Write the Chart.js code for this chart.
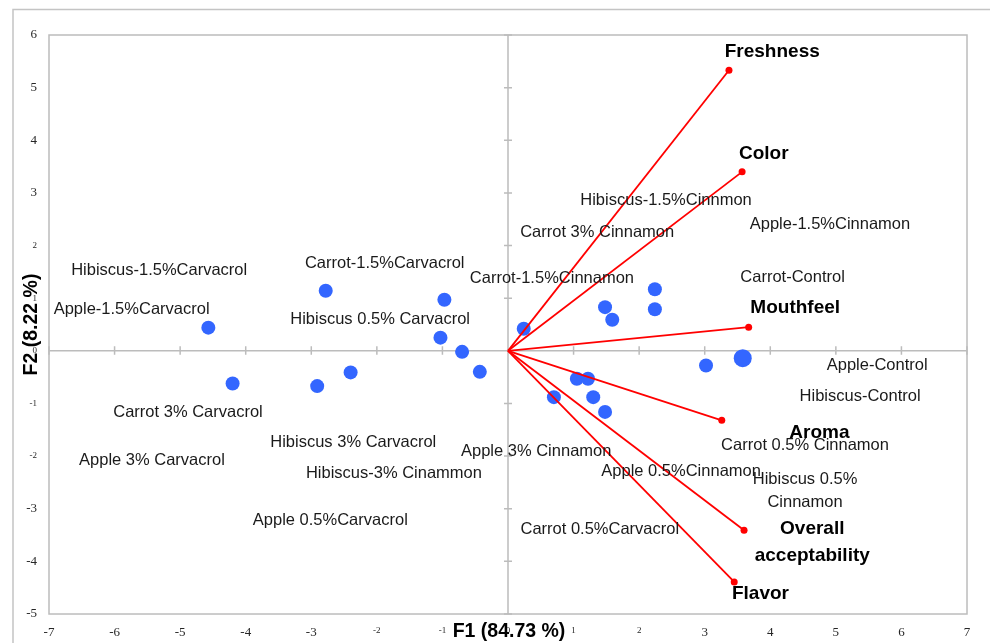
<!DOCTYPE html>
<html><head><meta charset="utf-8">
<script src="https://cdn.jsdelivr.net/npm/chart.js@4.4.1/dist/chart.umd.min.js"></script>
<style>html,body{margin:0;padding:0;background:#fff}canvas{display:block}</style>
</head><body>
<canvas id="c" width="990" height="643"></canvas>
<script>
// Sample scores (F1, F2)
const scoreX = [-4.57,-4.20,-2.91,-2.78,-2.40,-0.97,-1.03,-0.70,-0.43,0.24,1.48,1.59,2.24,2.24,1.05,1.22,0.70,1.30,1.48,3.02,3.58];
const scoreY = [0.44,-0.62,-0.67,1.14,-0.41,0.97,0.25,-0.02,-0.40,0.42,0.83,0.59,1.17,0.79,-0.53,-0.53,-0.88,-0.88,-1.16,-0.28,-0.14];

// Sample label texts and where they sit (data units)
const sampleNames = ["Hibiscus-1.5%Carvacrol","Apple-1.5%Carvacrol","Carrot-1.5%Carvacrol","Hibiscus 0.5% Carvacrol","Carrot 3% Carvacrol","Hibiscus 3% Carvacrol","Apple 3% Carvacrol","Hibiscus-3% Cinammon","Apple 0.5%Carvacrol","Apple 3% Cinnamon","Apple 0.5%Cinnamon","Carrot 0.5%Carvacrol","Carrot 0.5% Cinnamon","Hibiscus 0.5%\nCinnamon","Apple-Control","Hibiscus-Control","Carrot-Control","Apple-1.5%Cinnamon","Hibiscus-1.5%Cinnmon","Carrot 3% Cinnamon","Carrot-1.5%Cinnamon"];
const sampleLabelX = [-5.32,-5.74,-1.88,-1.95,-4.88,-2.36,-5.43,-1.74,-2.71,0.43,2.64,1.40,4.53,4.53,5.63,5.37,4.34,4.91,2.41,1.36,0.67];
const sampleLabelY = [1.52,0.79,1.66,0.60,-1.18,-1.74,-2.09,-2.33,-3.23,-1.92,-2.29,-3.39,-1.79,-2.66,-0.28,-0.87,1.40,2.40,2.85,2.24,1.37];

// Attribute loadings (vectors)
const attributeNames = ["Freshness","Color","Mouthfeel","Aroma","Overall\nacceptability","Flavor"];
const loadingX = [3.37,3.57,3.67,3.26,3.60,3.45];
const loadingY = [5.33,3.40,0.45,-1.32,-3.41,-4.39];
const attributeLabelX = [4.03,3.90,4.38,4.75,4.64,3.85];
const attributeLabelY = [5.68,3.75,0.81,-1.56,-3.64,-4.62];

// Axis ticks and titles
const xTicks = [-7,-6,-5,-4,-3,-2,-1,0,1,2,3,4,5,6,7];
const yTicks = [-5,-4,-3,-2,-1,0,1,2,3,4,5,6];
const xTitle = "F1 (84.73 %)";
const yTitle = "F2 (8.22 %)";

const AXIS_GRAY = '#bcbcbc';
const BIG_POINT = 20;

const datasets = [];
loadingX.forEach((lx, i) => {
  datasets.push({
    label: attributeNames[i],
    data: [{x: 0, y: 0}, {x: lx, y: loadingY[i]}],
    showLine: true,
    borderColor: '#ff0000',
    backgroundColor: '#ff0000',
    borderWidth: 1.8,
    pointRadius: [0, 3.5],
    pointHoverRadius: [0, 3.5],
    pointBorderWidth: 0,
    order: 0
  });
});
datasets.push({
  label: 'Samples',
  data: scoreX.map((x, i) => ({x: x, y: scoreY[i]})),
  backgroundColor: '#3366ff',
  borderColor: '#3366ff',
  pointBorderWidth: 0,
  pointRadius: ctx => ctx.dataIndex === BIG_POINT ? 9 : 7,
  pointHoverRadius: ctx => ctx.dataIndex === BIG_POINT ? 9 : 7,
  order: 1
});

function drawMultiline(ctx, text, x, y, lh) {
  const lines = text.split('\n');
  const y0 = y - (lines.length - 1) * lh / 2;
  lines.forEach((ln, k) => ctx.fillText(ln, x, y0 + k * lh));
}

const decor = {
  id: 'decor',
  beforeDraw(chart) {
    const c = chart.ctx;
    c.save();
    c.fillStyle = '#fff';
    c.fillRect(0, 0, chart.width, chart.height);
    c.strokeStyle = '#c4c4c4';
    c.lineWidth = 1.5;
    c.beginPath();
    c.moveTo(13, chart.height);
    c.lineTo(13, 9.5);
    c.lineTo(chart.width, 9.5);
    c.stroke();
    c.restore();
  },
  beforeDatasetsDraw(chart) {
    const c = chart.ctx, a = chart.chartArea;
    const xs = chart.scales.x, ys = chart.scales.y;
    c.save();
    c.strokeStyle = AXIS_GRAY;
    c.lineWidth = 1.5;
    c.strokeRect(a.left, a.top, a.right - a.left, a.bottom - a.top);
    const x0 = xs.getPixelForValue(0), y0 = ys.getPixelForValue(0);
    c.beginPath();
    c.moveTo(a.left, y0); c.lineTo(a.right, y0);
    c.moveTo(x0, a.top); c.lineTo(x0, a.bottom);
    xTicks.forEach(v => { const p = xs.getPixelForValue(v); c.moveTo(p, y0 - 4.5); c.lineTo(p, y0 + 4); });
    yTicks.forEach(v => { const p = ys.getPixelForValue(v); c.moveTo(x0 - 4, p); c.lineTo(x0 + 4, p); });
    c.stroke();
    c.restore();
  },
  afterDatasetsDraw(chart) {
    const c = chart.ctx;
    const xs = chart.scales.x, ys = chart.scales.y;
    c.save();
    c.textAlign = 'center';
    c.textBaseline = 'middle';
    c.fillStyle = '#1a1a1a';
    c.font = '16.5px "Liberation Sans", Arial, sans-serif';
    sampleNames.forEach((t, i) => {
      drawMultiline(c, t, xs.getPixelForValue(sampleLabelX[i]), ys.getPixelForValue(sampleLabelY[i]), 23);
    });
    c.fillStyle = '#000';
    c.font = 'bold 19px "Liberation Sans", Arial, sans-serif';
    attributeNames.forEach((t, i) => {
      drawMultiline(c, t, xs.getPixelForValue(attributeLabelX[i]), ys.getPixelForValue(attributeLabelY[i]), 27);
    });
    c.restore();
  },
  afterDraw(chart) {
    const c = chart.ctx, a = chart.chartArea;
    c.save();
    c.fillStyle = '#000';
    c.font = 'bold 19.5px "Liberation Sans", Arial, sans-serif';
    c.textAlign = 'center';
    c.textBaseline = 'middle';
    c.fillText(xTitle, chart.scales.x.getPixelForValue(0) + 1, 632);
    c.translate(32, (a.top + a.bottom) / 2);
    c.rotate(-Math.PI / 2);
    c.fillText(yTitle, 0, 0);
    c.restore();
  }
};

const tickFont = ctx => {
  const v = ctx.tick ? ctx.tick.value : 0;
  return Math.abs(v) <= 2
    ? {family: '"Liberation Serif", "Times New Roman", serif', size: 9}
    : {family: '"Liberation Serif", "Times New Roman", serif', size: 13};
};

new Chart(document.getElementById('c'), {
  type: 'scatter',
  data: {datasets: datasets},
  options: {
    responsive: false,
    animation: false,
    devicePixelRatio: 1,
    layout: {padding: {left: 0, right: 23, top: 35, bottom: 0}},
    plugins: {legend: {display: false}, tooltip: {enabled: false}},
    scales: {
      x: {
        type: 'linear', min: -7, max: 7,
        afterBuildTicks: s => { s.ticks = xTicks.map(v => ({value: v})); },
        ticks: {autoSkip: false, maxRotation: 0, padding: 11, color: '#262626', font: tickFont},
        grid: {display: false, drawTicks: false},
        border: {display: false},
        afterFit: s => { s.height = 29; }
      },
      y: {
        type: 'linear', min: -5, max: 6,
        afterBuildTicks: s => { s.ticks = yTicks.map(v => ({value: v})); },
        ticks: {autoSkip: false, padding: 12, color: '#262626', font: tickFont},
        grid: {display: false, drawTicks: false},
        border: {display: false},
        afterFit: s => { s.width = 49; }
      }
    }
  },
  plugins: [decor]
});
</script>
</body></html>
